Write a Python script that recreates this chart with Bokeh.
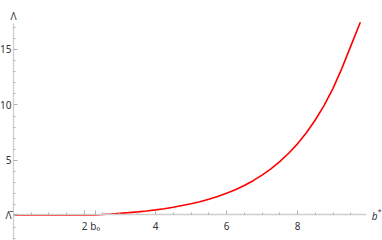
from bokeh.plotting import figure
from bokeh.models import FixedTicker, Range1d, Label
from bokeh.embed import file_html
from bokeh.resources import INLINE

# ---- data ----
lambda_bar = 0.1
b0 = 2.3
b_vals = [0.0, 2.3, 2.5, 2.75, 3.0, 3.25, 3.5, 3.75, 4.0, 4.25, 4.5, 4.75,
          5.0, 5.25, 5.5, 5.75, 6.0, 6.25, 6.5, 6.75, 7.0, 7.25, 7.5, 7.75,
          8.0, 8.25, 8.5, 8.75, 9.0, 9.25, 9.5, 9.77]
lam_vals = [0.1, 0.1, 0.13, 0.18, 0.24, 0.3, 0.37, 0.45, 0.55, 0.66, 0.79, 0.94,
            1.1, 1.29, 1.51, 1.76, 2.04, 2.37, 2.75, 3.18, 3.68, 4.25, 4.9, 5.65,
            6.5, 7.5, 8.65, 9.97, 11.5, 13.3, 15.3, 17.45]
x_ticks = [2, 4, 6, 8]
x_minor = [0.5, 1, 1.5, 2.5, 3, 3.5, 4.5, 5, 5.5, 6.5, 7, 7.5, 8.5, 9, 9.5]
y_ticks = [5, 10, 15]
y_minor = [-2, -1, 0, 1, 2, 3, 4, 6, 7, 8, 9, 11, 12, 13, 14, 16, 17]

FONT = "Noto Sans"
LABEL_COLOR = "#333333"
AXIS_COLOR = "#cfcfcf"
TICK_COLOR = "#b0b0b0"

p = figure(width=382, height=240, output_backend="svg", toolbar_location=None,
           x_range=Range1d(-0.366, 10.394), y_range=Range1d(-2.207, 19.41),
           min_border=0, x_axis_location="below", y_axis_location="left")
p.outline_line_color = None
p.grid.visible = False
p.background_fill_color = "white"
p.border_fill_color = "white"

p.line(b_vals, lam_vals, line_color="#ff0000", line_width=1.6)

# x axis crossing at Lambda-bar
xa = p.xaxis[0]
xa.fixed_location = lambda_bar
xa.bounds = (0, 9.95)
xa.ticker = FixedTicker(ticks=x_ticks + [b0], minor_ticks=x_minor)
xa.major_label_overrides = {b0: "b\u2080"}
ya = p.yaxis[0]
ya.fixed_location = 0
ya.bounds = (-2.207, 17.3)
ya.ticker = FixedTicker(ticks=[lambda_bar] + y_ticks, minor_ticks=y_minor)
ya.major_label_overrides = {lambda_bar: "\u039b\u0304"}

for ax in (xa, ya):
    ax.axis_line_color = AXIS_COLOR
    ax.axis_line_width = 1.3
    ax.major_tick_line_color = TICK_COLOR
    ax.minor_tick_line_color = TICK_COLOR
    ax.major_tick_in = 4
    ax.major_tick_out = 0
    ax.minor_tick_in = 2
    ax.minor_tick_out = 0
    ax.major_label_text_font = FONT
    ax.major_label_text_font_size = "10px"
    ax.major_label_text_color = LABEL_COLOR
xa.major_label_standoff = 4
ya.major_label_standoff = 2

# axis labels at the ends of the axes
p.add_layout(Label(x=0, y=18.0, text="\u039b", text_font=FONT, text_font_size="10px",
                   text_color=LABEL_COLOR, text_align="center", text_baseline="middle"))
p.add_layout(Label(x=10.09, y=lambda_bar, y_offset=-1, text="b", text_font=FONT,
                   text_font_style="italic", text_font_size="10px",
                   text_color=LABEL_COLOR, text_align="left", text_baseline="middle"))
p.add_layout(Label(x=10.09, y=lambda_bar, x_offset=6, y_offset=3, text="*", text_font=FONT,
                   text_font_size="7px", text_color=LABEL_COLOR,
                   text_align="left", text_baseline="middle"))

open("out.html", "w").write(file_html(p, INLINE))
